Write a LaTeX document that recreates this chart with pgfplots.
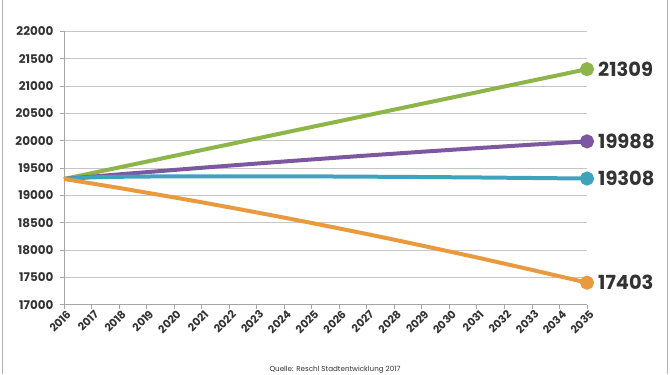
\documentclass[border=0pt]{standalone}
\usepackage{pgfplots}
\pgfplotsset{compat=1.18}
\usepackage{fontspec}
\setmainfont{Poppins}
\definecolor{cgreen}{HTML}{8DB54A}
\definecolor{cpurple}{HTML}{7D58A0}
\definecolor{cteal}{HTML}{3EA4BE}
\definecolor{corange}{HTML}{E99A3F}
\definecolor{ctext}{HTML}{333333}
\begin{document}
\begin{tikzpicture}[x=1bp,y=1bp]
\useasboundingbox (0,0) rectangle (670,374);
\draw[gray!60, line width=1.5bp] (2.5,0) -- (2.5,374);
\draw[gray!60, line width=1.5bp] (667.5,0) -- (667.5,374);
\begin{axis}[
  at={(64bp,69.3bp)}, anchor=south west,
  scale only axis, width=523bp, height=273.3bp,
  xmin=2016, xmax=2035, ymin=17000, ymax=22000,
  xtick={2016,...,2035}, ytick={17000,17500,...,22000},
  scaled y ticks=false, scaled x ticks=false,
  axis x line*=bottom, axis y line*=left,
  axis line style={gray!70, line width=0.8bp},
  tick style={gray!70, line width=0.8bp},
  tick align=outside, major tick length=4bp,
  ymajorgrids, grid style={gray!45, line width=0.9bp},
  clip=false,
  /pgf/number format/.cd, 1000 sep={}, assume math mode=true,
  /pgfplots/.cd,
  yticklabel style={font=\bfseries\fontsize{12}{12}\selectfont, text=ctext, xshift=-3bp},
  xticklabel style={font=\bfseries\fontsize{11}{11}\selectfont, text=ctext, rotate=45, anchor=east, inner sep=1bp, yshift=-6bp, xshift=2bp},
  every axis plot/.append style={line width=4bp, mark=*, mark indices={20}, mark size=5bp},
]
\addplot[cgreen, mark options={fill=cgreen}] coordinates {
(2016,19300)(2017,19406)(2018,19511)(2019,19617)(2020,19723)(2021,19829)(2022,19934)(2023,20040)(2024,20146)(2025,20252)(2026,20357)(2027,20463)(2028,20569)(2029,20675)(2030,20780)(2031,20886)(2032,20992)(2033,21098)(2034,21203)(2035,21309)};
\addplot[cpurple, mark options={fill=cpurple}] coordinates {
(2016,19300)(2017,19342)(2018,19384)(2019,19425)(2020,19465)(2021,19505)(2022,19544)(2023,19582)(2024,19620)(2025,19657)(2026,19693)(2027,19729)(2028,19763)(2029,19798)(2030,19831)(2031,19864)(2032,19896)(2033,19928)(2034,19958)(2035,19988)};
\addplot[cteal, mark options={fill=cteal}] coordinates {
(2016,19300)(2017,19330)(2018,19340)(2019,19345)(2020,19348)(2021,19350)(2022,19350)(2023,19350)(2024,19349)(2025,19347)(2026,19345)(2027,19342)(2028,19339)(2029,19336)(2030,19332)(2031,19328)(2032,19323)(2033,19318)(2034,19313)(2035,19308)};
\addplot[corange, mark options={fill=corange}] coordinates {
(2016,19300)(2017,19219)(2018,19136)(2019,19050)(2020,18963)(2021,18874)(2022,18782)(2023,18688)(2024,18593)(2025,18495)(2026,18395)(2027,18293)(2028,18189)(2029,18082)(2030,17974)(2031,17864)(2032,17751)(2033,17637)(2034,17520)(2035,17403)};
\begin{scope}[every node/.style={anchor=west, font=\bfseries\fontsize{19.5}{19.5}\selectfont, text=ctext, xshift=10bp, inner sep=1bp}]
\node at (axis cs:2035,21309) {21309};
\node at (axis cs:2035,19988) {19988};
\node at (axis cs:2035,19308) {19308};
\node at (axis cs:2035,17403) {17403};
\end{scope}
\end{axis}
\node[font=\fontsize{7.2}{7.2}\selectfont, text=ctext] at (335,4) {Quelle: Reschl Stadtentwicklung 2017};
\end{tikzpicture}
\end{document}
